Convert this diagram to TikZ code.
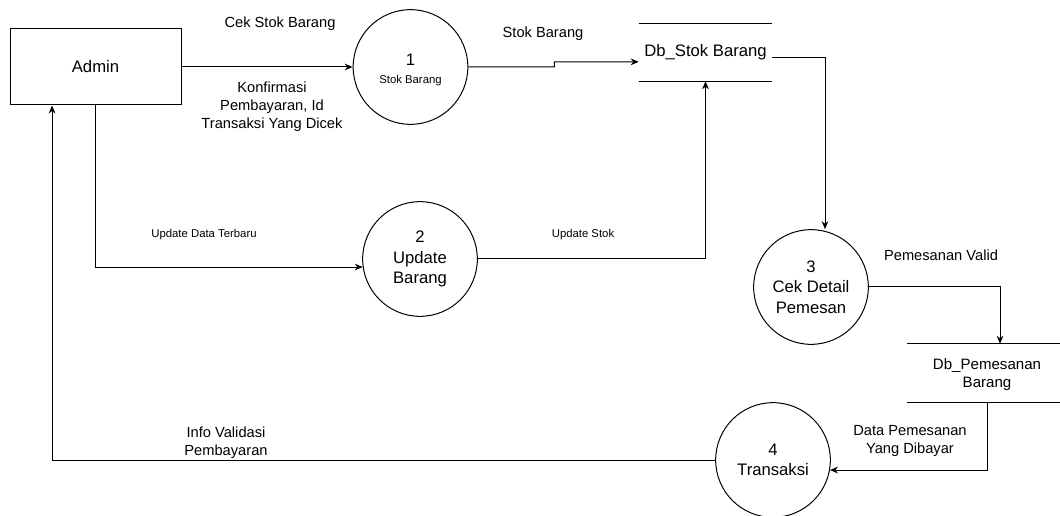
\documentclass[tikz,border=0pt]{standalone}
\usepackage{fontspec}
\setmainfont{Liberation Sans}
\usetikzlibrary{arrows.meta}
\begin{document}
\begin{tikzpicture}[x=0.75pt,y=-0.75pt,
  line/.style={draw=black,line width=0.75pt},
  arr/.style={line,-{Stealth[length=6pt,width=5pt]}},
  proc/.style={draw=black,line width=0.75pt,circle,minimum size=86pt,inner sep=0pt,align=center},
  store/.style={inner sep=0pt,align=center},
  lbl/.style={inner sep=0pt,align=center,font=\fontsize{11}{13.5}\selectfont},
  slbl/.style={inner sep=0pt,align=center,font=\fontsize{8.5}{10}\selectfont},
  big/.style={font=\fontsize{12.5}{15.4}\selectfont}]
\useasboundingbox (0,0) rectangle (1060,516);

% entities and processes
\node[line,rectangle,minimum width=128.25pt,minimum height=57pt,big] (admin) at (95.5,67) {Admin};
\node[proc] (p1) at (410.5,67) {};
\node[inner sep=0pt,align=center] (p1t) at (410.5,70) {{\fontsize{12.5}{14}\selectfont 1}\\[1pt]{\fontsize{8.5}{10}\selectfont Stok Barang}};
\node[proc,big] (p2) at (420,259) {2\\Update\\Barang};
\node[proc,big] (p3) at (811,287) {3\\Cek Detail\\Pemesan};
\node[proc,big] (p4) at (773,460) {4\\Transaksi};

% data stores
\node[store,minimum width=99.75pt,minimum height=42.75pt,big] (ds1) at (705.5,52.5) {Db\_Stok Barang};
\draw[line] (ds1.north west) -- (ds1.north east);
\draw[line] (ds1.south west) -- (ds1.south east);
\node[store,minimum width=120pt,minimum height=43.5pt] (ds2) at (987,373) {};
\node[inner sep=0pt,align=center,font=\fontsize{11.3}{13}\selectfont] (ds2t) at (987,374.5) {Db\_Pemesanan\\Barang};
\draw[line] (ds2.north west) -- (ds2.north east);
\draw[line] (ds2.south west) -- (ds2.south east);

% flows
\draw[arr] (admin.east) -- (p1.west);
\draw[arr] (p1.east) -- ++(64.5pt,0) -- ++(0,3.75pt) -- ([yshift=-7pt]ds1.west);
\draw[arr] ([yshift=-3.4pt]ds1.east) -| ([xshift=10.5pt]p3.north);
\draw[arr] (p2.east) -| (ds1.south);
\draw[arr] (admin.south) |- (p2.188);
\draw[arr] (p3.east) -| ([xshift=9.75pt]ds2.north);
\draw[arr] (ds2.south) |- (p4.-10);
\draw[arr] (p4.west) -| ([xshift=-32.6pt]admin.south);

% labels
\node[lbl] (l1) at (280,24) {Cek Stok Barang};
\node[lbl] (l2) at (272,107) {Konfirmasi\\Pembayaran, Id\\Transaksi Yang Dicek};
\node[lbl] (l3) at (543,34) {Stok Barang};
\node[slbl] (l4) at (204,235) {Update Data Terbaru};
\node[slbl] (l5) at (583,235) {Update Stok};
\node[lbl] (l6) at (941,255) {Pemesanan Valid};
\node[lbl] (l7) at (910,441) {Data Pemesanan\\Yang Dibayar};
\node[lbl] (l8) at (226,443) {Info Validasi\\Pembayaran};
\end{tikzpicture}
\end{document}
